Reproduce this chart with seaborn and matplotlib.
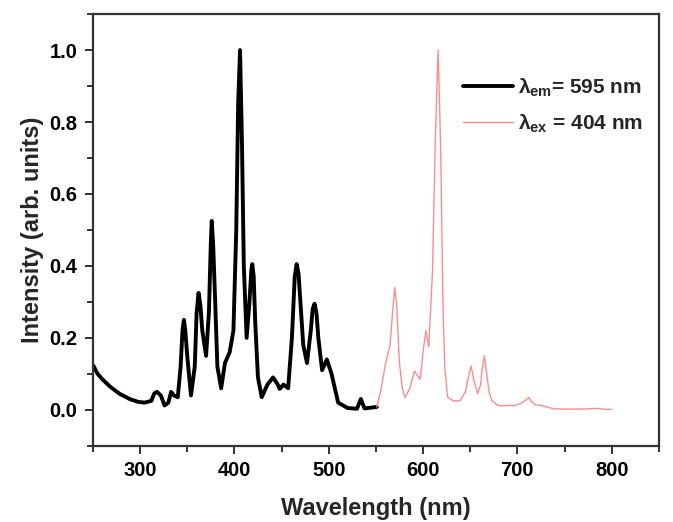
import numpy as np
import pandas as pd
import matplotlib
matplotlib.use('Agg')
import matplotlib.pyplot as plt
from matplotlib.ticker import MultipleLocator, FormatStrFormatter
import seaborn as sns

# excitation spectrum (lambda_em = 595 nm)
ex_wl = [250, 255, 260, 268, 278, 289, 298, 305, 312, 315, 318, 322, 326, 330, 333, 336, 340,
         343, 345, 346.5, 348, 350, 354, 358, 360, 362, 364, 366, 370, 373, 375, 376, 377.5,
         379, 382, 386, 390, 395, 399, 402, 404, 406, 408, 410, 413, 416, 418, 419, 420.5,
         422, 425, 429, 435, 441, 446, 448, 452, 457, 461, 464, 466, 468, 470, 473, 477, 481,
         483, 485, 487, 489, 493, 498, 503, 510, 520, 530, 534, 538, 545, 551]
ex_int = [0.125, 0.10, 0.085, 0.065, 0.045, 0.03, 0.022, 0.02, 0.025, 0.045, 0.05, 0.04,
          0.012, 0.02, 0.05, 0.04, 0.035, 0.12, 0.22, 0.25, 0.22, 0.15, 0.04, 0.12, 0.27,
          0.325, 0.29, 0.22, 0.15, 0.27, 0.46, 0.525, 0.46, 0.35, 0.12, 0.06, 0.13, 0.16,
          0.22, 0.5, 0.85, 1.0, 0.75, 0.4, 0.2, 0.3, 0.39, 0.405, 0.37, 0.25, 0.09, 0.035,
          0.07, 0.09, 0.07, 0.058, 0.07, 0.06, 0.2, 0.37, 0.405, 0.38, 0.3, 0.18, 0.13,
          0.22, 0.28, 0.295, 0.27, 0.2, 0.11, 0.14, 0.1, 0.02, 0.005, 0.003, 0.03, 0.004,
          0.006, 0.008]

# emission spectrum (lambda_ex = 404 nm)
em_wl = [551, 555, 560, 565, 568, 570, 572, 575, 578, 581, 586, 591, 594, 597, 600, 603,
         606, 610, 613, 616, 618, 619, 621, 623, 626, 632, 639, 645, 648, 651, 654, 658,
         661, 663, 665, 667, 670, 673, 678, 682, 690, 697, 703, 708, 712, 716, 719, 726,
         738, 750, 770, 785, 790, 800]
em_int = [0.008, 0.05, 0.125, 0.18, 0.28, 0.34, 0.29, 0.13, 0.06, 0.034, 0.06, 0.108,
          0.095, 0.085, 0.16, 0.22, 0.175, 0.38, 0.75, 1.0, 0.8, 0.68, 0.31, 0.12, 0.035,
          0.025, 0.025, 0.05, 0.09, 0.122, 0.08, 0.045, 0.07, 0.12, 0.15, 0.11, 0.05, 0.025,
          0.015, 0.011, 0.012, 0.012, 0.017, 0.025, 0.034, 0.02, 0.014, 0.012, 0.003, 0.002,
          0.002, 0.004, 0.002, 0.001]

sns.set_style('ticks')
plt.rcParams['font.family'] = ['Liberation Sans', 'DejaVu Sans']
plt.rcParams['font.weight'] = 'bold'
plt.rcParams['mathtext.fontset'] = 'custom'
plt.rcParams['mathtext.rm'] = 'Liberation Sans:bold'
plt.rcParams['mathtext.it'] = 'Liberation Sans:bold'
plt.rcParams['mathtext.bf'] = 'Liberation Sans:bold'

df_ex = pd.DataFrame({'wl': ex_wl, 'I': ex_int})
df_em = pd.DataFrame({'wl': em_wl, 'I': em_int})

fig = plt.figure(figsize=(6.73, 5.22), dpi=100)
ax = fig.add_axes([0.138, 0.146, 0.841, 0.827])

sns.lineplot(data=df_ex, x='wl', y='I', ax=ax, color='black', linewidth=2.8,
             label=r'λ$_{em}$= 595 nm')
sns.lineplot(data=df_em, x='wl', y='I', ax=ax, color='#ff8c8c', linewidth=1.0,
             label=r'λ$_{ex}$ = 404 nm')

ax.set_xlim(250, 850)
ax.set_ylim(-0.1, 1.1)
ax.set_xticks([300, 400, 500, 600, 700, 800])
ax.set_yticks([0.0, 0.2, 0.4, 0.6, 0.8, 1.0])
ax.xaxis.set_minor_locator(MultipleLocator(50))
ax.yaxis.set_minor_locator(MultipleLocator(0.1))
ax.yaxis.set_major_formatter(FormatStrFormatter('%.1f'))

ax.tick_params(which='major', direction='out', length=6, width=1.4, labelsize=14.5,
               colors='#333333', labelcolor='black', pad=5)
ax.tick_params(which='minor', direction='out', length=4, width=1.4, colors='#333333')
for s in ax.spines.values():
    s.set_linewidth(1.6)
    s.set_color('#333333')

ax.set_xlabel('Wavelength (nm)', fontsize=17, fontweight='bold', labelpad=12)
ax.set_ylabel('Intensity (arb. units)', fontsize=17, fontweight='bold', labelpad=4)

ax.legend(loc='upper left', bbox_to_anchor=(0.64, 0.875), frameon=False, fontsize=15,
          handlelength=2.4, handletextpad=0.2, labelspacing=0.65, borderaxespad=0.0)

fig.savefig('out.png', dpi=100)
